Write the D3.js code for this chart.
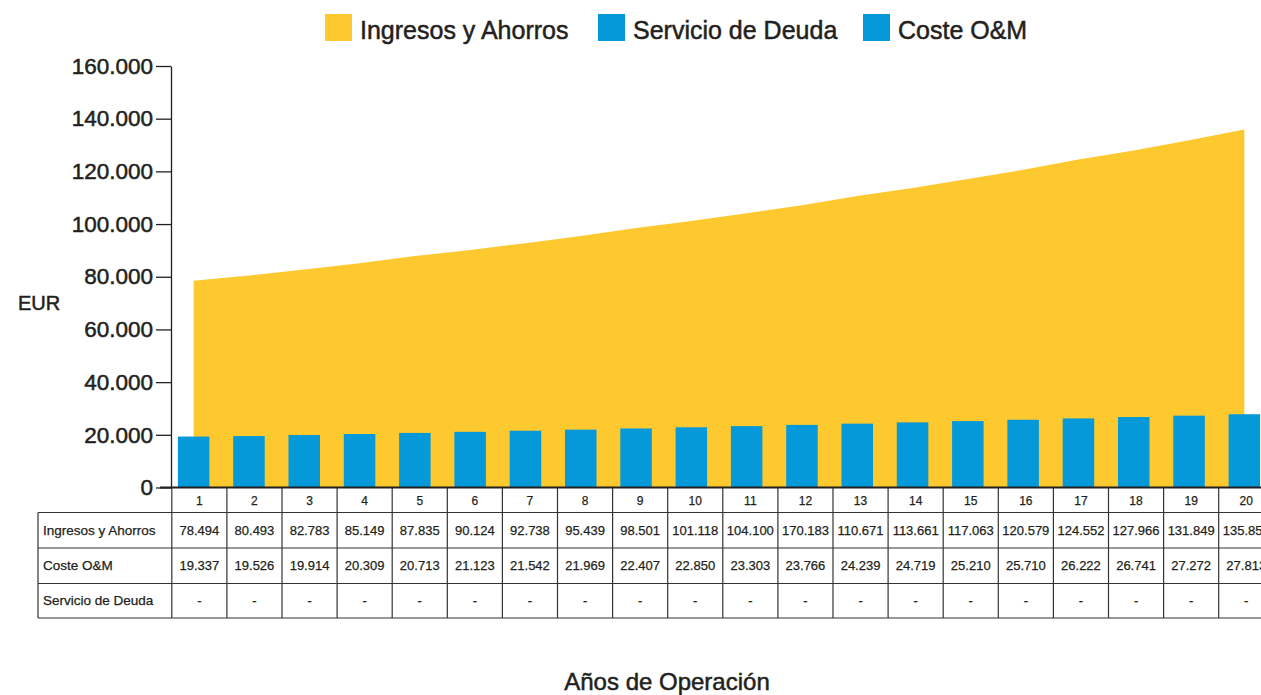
<!DOCTYPE html>
<html lang="es">
<head>
    <meta charset="UTF-8">
    <title>Ingresos y Ahorros vs Costes</title>
    <script src="https://d3js.org/d3.v7.min.js"></script>
    <style>
        body { margin: 0; background: #fff; }
        svg { display: block; font-family: "Liberation Sans", Arial, Helvetica, sans-serif; }
        .heavy { stroke: #231F20; stroke-width: 0.5px; }
        .semi { stroke: #231F20; stroke-width: 0.25px; }
    </style>
</head>
<body>
    <div id="chart"></div>
    <script>
        // datos
        const years = [1, 2, 3, 4, 5, 6, 7, 8, 9, 10, 11, 12, 13, 14, 15, 16, 17, 18, 19, 20];
        const ingresos = [78494, 80493, 82783, 85149, 87835, 90124, 92738, 95439, 98501, 101118,
                          104100, 107183, 110671, 113661, 117063, 120579, 124552, 127966, 131849, 135853];
        // texto de la tabla tal como aparece (año 12 impreso como 170.183)
        const ingresosLabels = ["78.494", "80.493", "82.783", "85.149", "87.835", "90.124", "92.738", "95.439", "98.501", "101.118",
                                "104.100", "170.183", "110.671", "113.661", "117.063", "120.579", "124.552", "127.966", "131.849", "135.853"];
        const costeOM = [19337, 19526, 19914, 20309, 20713, 21123, 21542, 21969, 22407, 22850,
                         23303, 23766, 24239, 24719, 25210, 25710, 26222, 26741, 27272, 27813];
        const servicioDeuda = [null, null, null, null, null, null, null, null, null, null,
                               null, null, null, null, null, null, null, null, null, null];
        const yTicks = [0, 20000, 40000, 60000, 80000, 100000, 120000, 140000, 160000];
        const seriesNames = ["Ingresos y Ahorros", "Servicio de Deuda", "Coste O&M"];

        const yellow = '#FDC92F';
        const blue = '#0599D9';
        const ink = '#231F20';

        const width = 1261, height = 695;
        const locale = d3.formatLocale({ decimal: ",", thousands: ".", grouping: [3], currency: ["", "€"] });
        const fmt = locale.format(",d");

        const svg = d3.select('#chart').append('svg')
            .attr('width', width)
            .attr('height', height);

        const x = d3.scaleBand()
            .domain(years)
            .range([166, 1272])
            .paddingInner(0.43)
            .paddingOuter(0.215);

        const xTable = d3.scaleBand()
            .domain(years)
            .range([171.8, 1273.8]);

        const y = d3.scaleLinear()
            .domain([0, 160000])
            .range([487.5, 66]);

        const cx = d => x(d) + x.bandwidth() / 2;

        // area de ingresos
        const area = d3.area()
            .x((d, i) => cx(years[i]))
            .y0(y(0))
            .y1(d => y(d));

        svg.append('path')
            .datum(ingresos)
            .attr('d', area)
            .attr('fill', yellow);

        // barras coste O&M
        svg.selectAll('.bar')
            .data(costeOM)
            .enter().append('rect')
            .attr('class', 'bar')
            .attr('x', (d, i) => x(years[i]))
            .attr('y', d => y(d))
            .attr('width', x.bandwidth())
            .attr('height', d => y(0) - y(d))
            .attr('fill', blue);

        // eje Y
        const yAxis = svg.append('g')
            .attr('transform', 'translate(171,0)')
            .call(d3.axisLeft(y).tickValues(yTicks).tickFormat(d => d === 0 ? '0' : fmt(d))
                .tickSize(15).tickSizeOuter(0).tickPadding(3));
        yAxis.select('.domain').attr('stroke', ink).attr('stroke-width', 1.3);
        yAxis.selectAll('.tick line').attr('stroke', ink).attr('stroke-width', 1.3);
        yAxis.selectAll('text')
            .attr('class', 'heavy')
            .attr('fill', ink)
            .attr('font-size', '22.5px')
            .attr('font-family', '"Liberation Sans", Arial, sans-serif');

        svg.append('text')
            .attr('class', 'heavy')
            .attr('x', 18)
            .attr('y', 310)
            .attr('font-size', '20px')
            .attr('fill', ink)
            .text('EUR');

        // tabla
        const rowTops = [488, 512.5, 548, 583.5, 618];
        const g = svg.append('g').attr('stroke', '#333').attr('stroke-width', 1.2);

        rowTops.slice(1).forEach(t => {
            g.append('line').attr('x1', 38).attr('x2', width).attr('y1', t).attr('y2', t);
        });
        g.append('line').attr('x1', 38).attr('x2', 38).attr('y1', rowTops[1]).attr('y2', rowTops[4]);
        years.forEach(d => {
            g.append('line')
                .attr('x1', xTable(d)).attr('x2', xTable(d))
                .attr('y1', rowTops[0]).attr('y2', rowTops[4]);
        });

        // eje X (linea base)
        svg.append('line')
            .attr('x1', 160).attr('x2', width)
            .attr('y1', y(0)).attr('y2', y(0))
            .attr('stroke', ink).attr('stroke-width', 2);

        const tcx = d => xTable(d) + xTable.bandwidth() / 2;

        svg.selectAll('.yr')
            .data(years)
            .enter().append('text')
            .attr('class', 'semi')
            .attr('x', d => tcx(d))
            .attr('y', 500.5)
            .attr('dy', '0.35em')
            .attr('text-anchor', 'middle')
            .attr('font-size', '12px')
            .attr('fill', ink)
            .text(d => d);

        const rows = [
            { name: seriesNames[0], cells: ingresosLabels },
            { name: seriesNames[2], cells: costeOM.map(fmt) },
            { name: seriesNames[1], cells: servicioDeuda.map(v => v == null ? '-' : fmt(v)) }
        ];

        rows.forEach((r, ri) => {
            const cy = (rowTops[ri + 1] + rowTops[ri + 2]) / 2;
            svg.append('text')
                .attr('class', 'semi')
                .attr('x', 43)
                .attr('y', cy)
                .attr('dy', '0.35em')
                .attr('font-size', '13.5px')
                .attr('fill', ink)
                .text(r.name);
            svg.selectAll('.c' + ri)
                .data(r.cells)
                .enter().append('text')
                .attr('class', 'semi')
                .attr('x', (d, i) => tcx(years[i]))
                .attr('y', cy)
                .attr('dy', '0.35em')
                .attr('text-anchor', 'middle')
                .attr('font-size', '13px')
                .attr('fill', ink)
                .text(d => d);
        });

        // leyenda
        const legend = [
            { name: seriesNames[0], color: yellow, x: 325 },
            { name: seriesNames[1], color: blue, x: 598 },
            { name: seriesNames[2], color: blue, x: 863 }
        ];
        legend.forEach(l => {
            svg.append('rect')
                .attr('x', l.x).attr('y', 14)
                .attr('width', 27).attr('height', 27)
                .attr('fill', l.color);
            svg.append('text')
                .attr('class', 'heavy')
                .attr('x', l.x + 35)
                .attr('y', 39)
                .attr('font-size', '25px')
                .attr('fill', ink)
                .text(l.name);
        });

        // titulo eje X
        svg.append('text')
            .attr('class', 'heavy')
            .attr('x', 667)
            .attr('y', 690)
            .attr('text-anchor', 'middle')
            .attr('font-size', '24px')
            .attr('fill', ink)
            .text('Años de Operación');
    </script>
</body>
</html>
